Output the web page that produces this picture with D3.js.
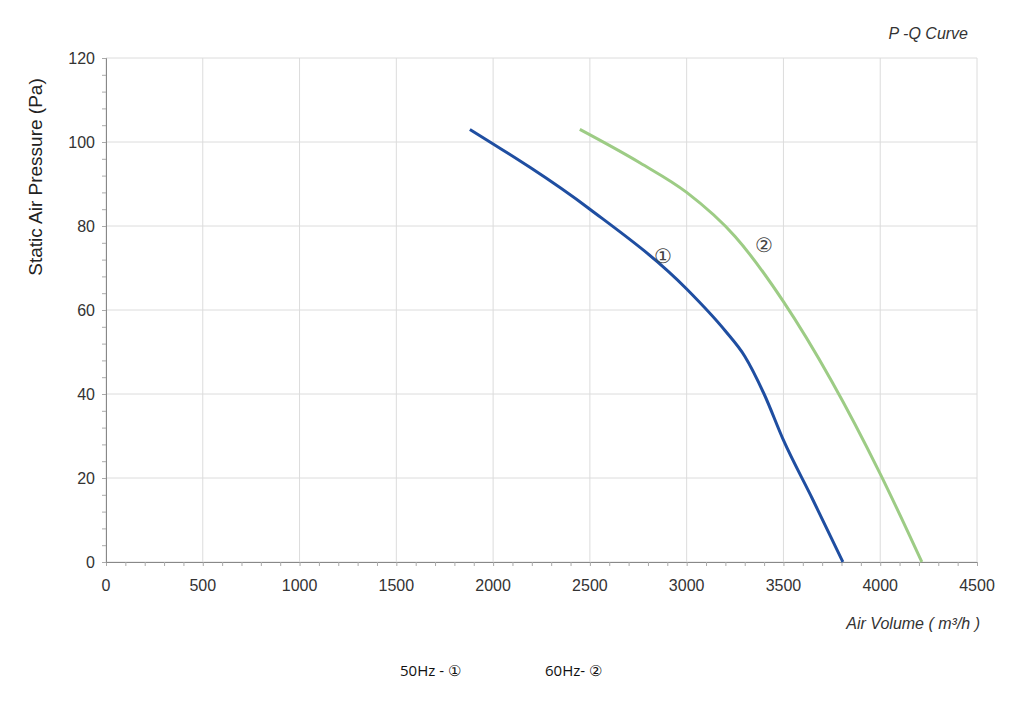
<!DOCTYPE html>
<html><head><meta charset="utf-8">
<script src="https://cdn.jsdelivr.net/npm/d3@7"></script>
<style>body{margin:0;background:#fff;font-family:"Liberation Sans",Arial,sans-serif}</style>
</head><body><svg id="c" width="1024" height="704"></svg>
<script>
const xTicks=[0,500,1000,1500,2000,2500,3000,3500,4000,4500];
const yTicks=[0,20,40,60,80,100,120];
const q50=[1880,2500,3000,3200,3300,3400,3500,3650,3807];
const p50=[103,84,65,55,49,40,29,15,0];
const q60=[2448,2760,3000,3250,3500,3750,4000,4215];
const p60=[103,95,88,77.5,62,43,21,0];
const blue="#1f4ea1", green="#9dcc85";
const svg=d3.select("#c");
const x=d3.scaleLinear().domain([0,4500]).range([106,977]);
const y=d3.scaleLinear().domain([0,120]).range([562,58]);
const g=svg.append("g");
g.selectAll(".gx").data(xTicks).enter().append("line").attr("x1",d=>x(d)).attr("x2",d=>x(d)).attr("y1",y(0)).attr("y2",y(120)).attr("stroke","#dcdcdc");
g.selectAll(".gy").data(yTicks).enter().append("line").attr("y1",d=>y(d)).attr("y2",d=>y(d)).attr("x1",x(0)).attr("x2",x(4500)).attr("stroke","#dcdcdc");
const xa=svg.append("g").attr("transform",`translate(0,${y(0)})`).call(d3.axisBottom(x).tickValues(d3.range(0,4501,100)).tickSize(4).tickFormat(""));
xa.select(".domain").attr("stroke","#888");xa.selectAll("line").attr("stroke","#aaa");
svg.append("g").selectAll("text").data(xTicks).enter().append("text").attr("x",d=>x(d)).attr("y",y(0)+29).attr("text-anchor","middle").attr("font-size",16).attr("fill","#333").text(d=>d);
const ya=svg.append("g").attr("transform",`translate(${x(0)},0)`).call(d3.axisLeft(y).tickValues(d3.range(0,121,4)).tickSize(4).tickFormat(""));
ya.select(".domain").attr("stroke","#888");ya.selectAll("line").attr("stroke","#aaa");
svg.append("g").selectAll("text").data(yTicks).enter().append("text").attr("x",x(0)-11).attr("y",d=>y(d)+6).attr("text-anchor","end").attr("font-size",16).attr("fill","#333").text(d=>d);
const line=(qs,ps)=>d3.line().x(d=>x(d)).y((d,i)=>y(ps[i])).curve(d3.curveMonotoneX)(qs);
svg.append("path").attr("d",line(q60,p60)).attr("fill","none").attr("stroke",green).attr("stroke-width",3);
svg.append("path").attr("d",line(q50,p50)).attr("fill","none").attr("stroke",blue).attr("stroke-width",3);
svg.append("text").attr("x",x(2880)).attr("y",y(71.3)).attr("font-size",20).attr("text-anchor","middle").attr("fill","#444").text("①");
svg.append("text").attr("x",x(3400)).attr("y",y(73.8)).attr("font-size",20).attr("text-anchor","middle").attr("fill","#444").text("②");
svg.append("text").attr("transform","translate(42,177) rotate(-90)").attr("text-anchor","middle").attr("font-size",19).attr("fill","#222").text("Static Air Pressure  (Pa)");
svg.append("text").attr("x",968).attr("y",39).attr("text-anchor","end").attr("font-size",16).attr("font-style","italic").attr("fill","#333").text("P -Q Curve");
svg.append("text").attr("x",980).attr("y",629).attr("text-anchor","end").attr("font-size",16).attr("font-style","italic").attr("fill","#333").text("Air Volume ( m³/h )");
svg.append("text").attr("x",400).attr("y",676).attr("font-size",15).attr("font-family","Open Sans").attr("fill","#111").text("50Hz -  ①");
svg.append("text").attr("x",545).attr("y",676).attr("font-size",15).attr("font-family","Open Sans").attr("fill","#111").text("60Hz-  ②");
</script></body></html>
